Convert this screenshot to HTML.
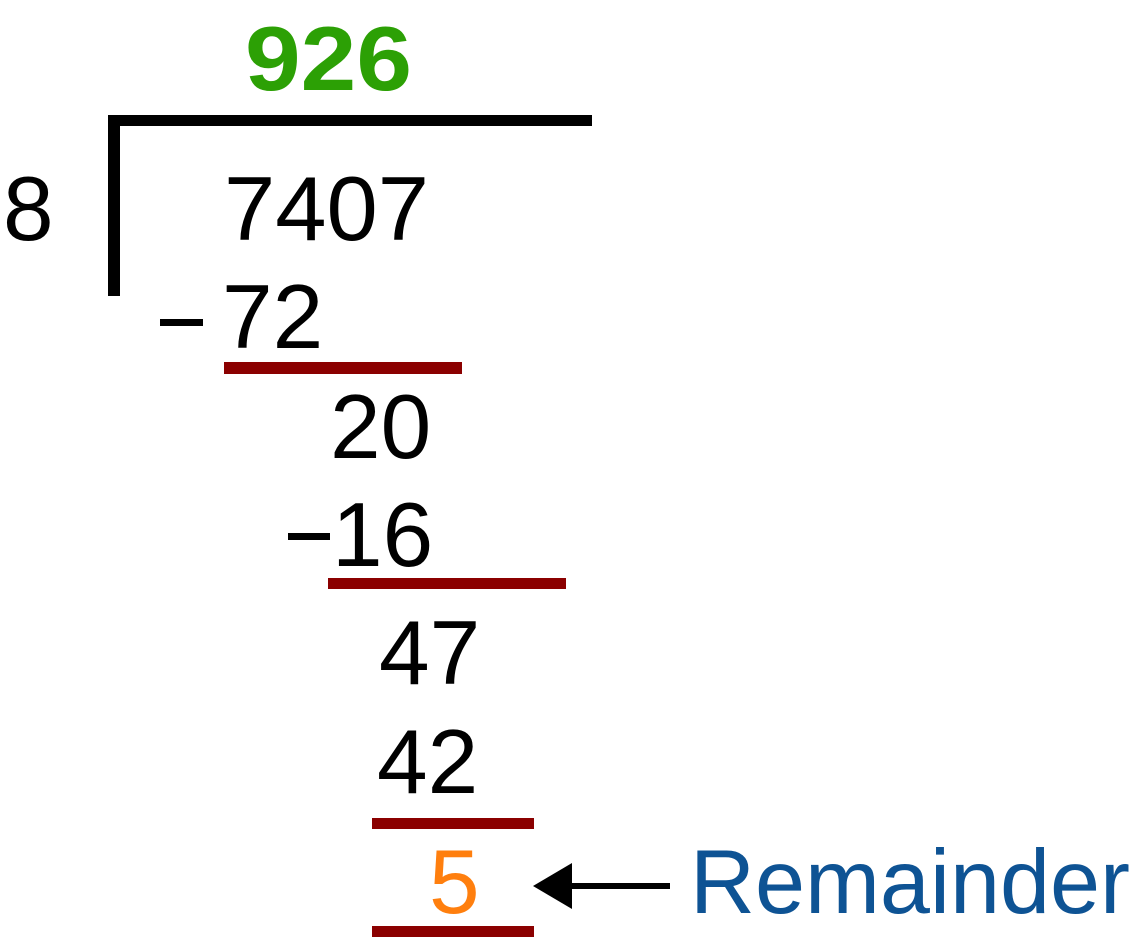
<!DOCTYPE html>
<html><head><meta charset="utf-8"><style>
html,body{margin:0;padding:0;background:#fff;}
svg{display:block;}
text{font-family:"Liberation Sans",sans-serif;font-size:91px;}
</style></head><body>
<svg width="1132" height="938" viewBox="0 0 1132 938" xmlns="http://www.w3.org/2000/svg">
<text x="245" y="90" fill="#2ca005" font-weight="bold" font-size="86" textLength="167" lengthAdjust="spacingAndGlyphs">926</text>
<rect x="108" y="115" width="484" height="11" fill="#000"/>
<rect x="108" y="115" width="12" height="181" fill="#000"/>
<text x="3" y="240" fill="#000">8</text>
<text x="224" y="240" fill="#000" textLength="205" lengthAdjust="spacingAndGlyphs">7407</text>
<rect x="160" y="319" width="43" height="7" fill="#000"/>
<text x="222" y="348" fill="#000">72</text>
<rect x="224" y="362" width="238" height="12" fill="#8b0000"/>
<text x="330" y="458" fill="#000">20</text>
<rect x="288" y="533" width="42" height="7" fill="#000"/>
<text x="332" y="566" fill="#000">16</text>
<rect x="328" y="578" width="238" height="11" fill="#8b0000"/>
<text x="379" y="684" fill="#000">47</text>
<text x="377" y="793" fill="#000">42</text>
<rect x="372" y="818" width="162" height="11" fill="#8b0000"/>
<text x="429" y="913" fill="#ff7f0e">5</text>
<rect x="372" y="926" width="162" height="11" fill="#8b0000"/>
<rect x="565" y="883" width="105" height="6" fill="#000"/>
<polygon points="533,886 572,863 572,909" fill="#000"/>
<text x="690" y="913" fill="#0e5394" textLength="440" lengthAdjust="spacingAndGlyphs">Remainder</text>
</svg>
</body></html>
